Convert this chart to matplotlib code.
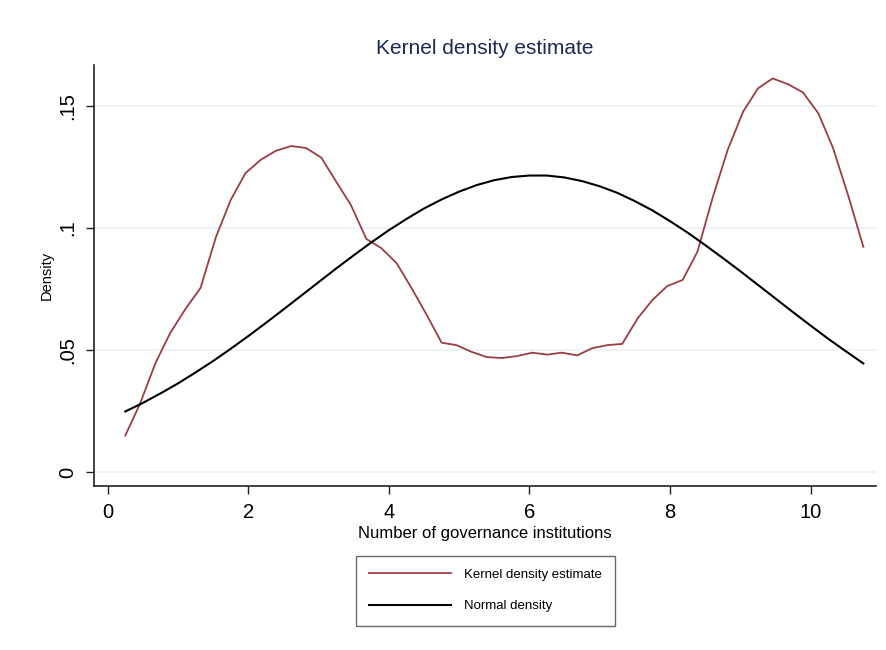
import matplotlib
matplotlib.use("Agg")
import matplotlib.pyplot as plt

# KDE polyline
kde_x = [0.25, 0.46, 0.68, 0.89, 1.11, 1.32, 1.54, 1.75, 1.96, 2.18,
         2.39, 2.61, 2.82, 3.04, 3.25, 3.46, 3.68, 3.89, 4.11, 4.32,
         4.54, 4.75, 4.96, 5.18, 5.39, 5.61, 5.82, 6.04, 6.25, 6.46,
         6.68, 6.89, 7.11, 7.32, 7.54, 7.75, 7.96, 8.18, 8.39, 8.61,
         8.82, 9.04, 9.25, 9.46, 9.68, 9.89, 10.11, 10.32, 10.54, 10.75]
kde_y = [0.0149, 0.0280, 0.0447, 0.0570, 0.0670, 0.0754, 0.0963, 0.1115, 0.1225, 0.1280,
         0.1316, 0.1336, 0.1328, 0.1288, 0.1190, 0.1094, 0.0955, 0.0918, 0.0856, 0.0755,
         0.0643, 0.0530, 0.0520, 0.0492, 0.0471, 0.0467, 0.0475, 0.0489, 0.0481, 0.0489,
         0.0478, 0.0507, 0.0520, 0.0525, 0.0630, 0.0705, 0.0762, 0.0787, 0.0903, 0.1128,
         0.1320, 0.1477, 0.1572, 0.1613, 0.1589, 0.1556, 0.1470, 0.1327, 0.1128, 0.0923]

# Normal density curve
norm_x = [0.25, 0.5, 0.75, 1.0, 1.25, 1.5, 1.75, 2.0, 2.25, 2.5, 2.75,
          3.0, 3.25, 3.5, 3.75, 4.0, 4.25, 4.5, 4.75, 5.0, 5.25, 5.5,
          5.75, 6.0, 6.25, 6.5, 6.75, 7.0, 7.25, 7.5, 7.75, 8.0, 8.25,
          8.5, 8.75, 9.0, 9.25, 9.5, 9.75, 10.0, 10.25, 10.5, 10.75]
norm_y = [0.0248, 0.0283, 0.0322, 0.0363, 0.0408, 0.0455, 0.0505, 0.0557, 0.0611, 0.0666, 0.0722,
          0.0778, 0.0834, 0.0888, 0.0941, 0.0991, 0.1037, 0.1080, 0.1117, 0.1149, 0.1176, 0.1196,
          0.1209, 0.1215, 0.1215, 0.1207, 0.1192, 0.1171, 0.1144, 0.1110, 0.1072, 0.1028, 0.0981,
          0.0930, 0.0877, 0.0823, 0.0767, 0.0711, 0.0655, 0.0600, 0.0546, 0.0495, 0.0445]

x_ticks = [0, 2, 4, 6, 8, 10]
y_ticks = [0, 0.05, 0.10, 0.15]
y_tick_labels = ["0", ".05", ".1", ".15"]

title = "Kernel density estimate"
x_label = "Number of governance institutions"
y_label = "Density"
series_labels = ["Kernel density estimate", "Normal density"]

plt.rcParams['font.family'] = ['Liberation Sans', 'DejaVu Sans']

fig = plt.figure(figsize=(8.86, 6.5), dpi=100)
ax = fig.add_axes([0.1061, 0.2523, 0.8826, 0.6477])

red = '#9b3d43'
ax.plot(kde_x, kde_y, color=red, lw=1.3, label=series_labels[0], zorder=3)
ax.plot(norm_x, norm_y, color='black', lw=1.5, label=series_labels[1], zorder=3)

ax.set_xlim(-0.195, 10.93)
ax.set_ylim(-0.00574, 0.1668)
ax.set_xticks(x_ticks)
ax.set_xticklabels([str(t) for t in x_ticks])
ax.set_yticks(y_ticks)
ax.set_yticklabels(y_tick_labels, rotation=90, va='center')

for s in ['top', 'right']:
    ax.spines[s].set_visible(False)
for s in ['left', 'bottom']:
    ax.spines[s].set_color('#222222')
    ax.spines[s].set_linewidth(1.2)

ax.tick_params(axis='both', length=6, width=1, color='#222222', labelsize=14.5)
ax.tick_params(axis='x', pad=6)
ax.tick_params(axis='y', pad=6)
ax.yaxis.grid(True, color='#eaf2f3', lw=1.2)
ax.set_axisbelow(True)

ax.set_title(title, fontsize=15, color='#1c2a55', pad=8)
ax.set_xlabel(x_label, fontsize=12, labelpad=3)
ax.set_ylabel(y_label, fontsize=10.5, labelpad=3)

leg = ax.legend(loc='center', bbox_to_anchor=(0.548, 0.0915), bbox_transform=fig.transFigure,
                fontsize=9.5, handlelength=6.2, handletextpad=1.0, labelspacing=1.45,
                borderpad=1.0, fancybox=False, frameon=True, borderaxespad=0)
leg.get_frame().set_edgecolor('#444444')
leg.get_frame().set_linewidth(1.0)

fig.savefig('out.png', dpi=100, facecolor='white')
